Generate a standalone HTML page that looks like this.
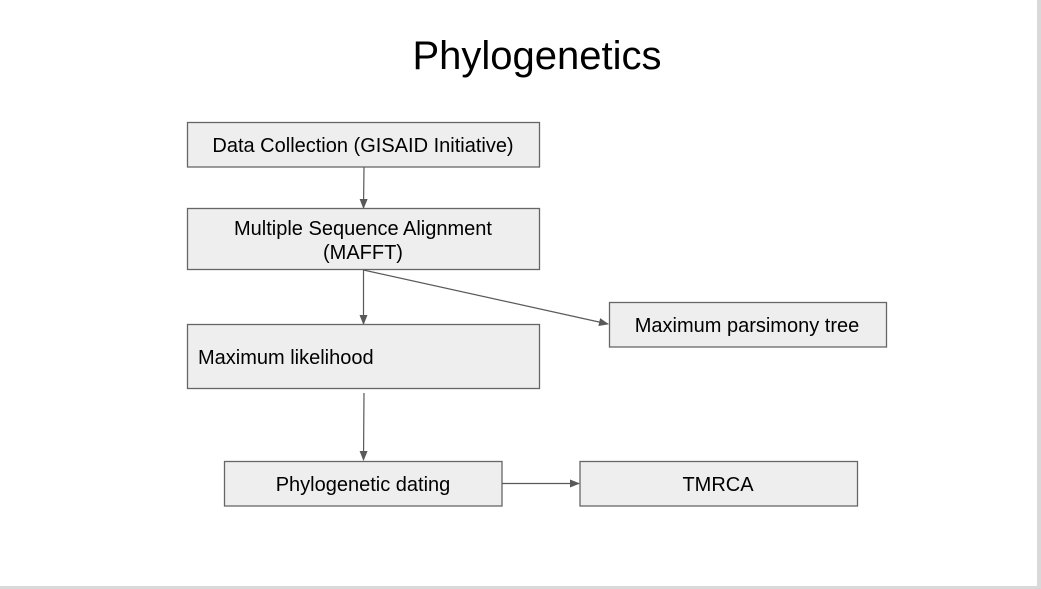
<!DOCTYPE html>
<html><head><style>
html,body{margin:0;padding:0;background:#fff;}
svg{display:block;}
text{font-family:"Liberation Sans",Arial,sans-serif;fill:#000;}
</style></head><body>
<svg width="1041" height="589" viewBox="0 0 1041 589">
<defs><marker id="a" markerWidth="10" markerHeight="8" refX="9" refY="4" orient="auto" markerUnits="userSpaceOnUse"><path d="M0,0 L10,4 L0,8 z" fill="#595959"/></marker></defs>
<rect x="0" y="0" width="1041" height="589" fill="#fff"/>
<rect x="1037" y="0" width="4" height="589" fill="#d9d9d9"/>
<rect x="0" y="586" width="1041" height="3" fill="#d9d9d9"/>
<text x="537" y="69" font-size="40" text-anchor="middle">Phylogenetics</text>
<g fill="#eeeeee" stroke="#666" stroke-width="1.3">
<rect x="187.5" y="122.5" width="352" height="44.5"/>
<rect x="187.5" y="208.5" width="352" height="61"/>
<rect x="609.5" y="302.5" width="277" height="44.5"/>
<rect x="187.5" y="324.5" width="352" height="64"/>
<rect x="224.5" y="461.5" width="277.5" height="44.5"/>
<rect x="580" y="461.5" width="277.5" height="44.5"/>
</g>
<g stroke="#595959" stroke-width="1.2" fill="none">
<line x1="364" y1="167" x2="363.5" y2="208" marker-end="url(#a)"/>
<line x1="363.5" y1="270" x2="363.5" y2="324" marker-end="url(#a)"/>
<line x1="363.5" y1="270" x2="608" y2="324" marker-end="url(#a)"/>
<line x1="364" y1="393" x2="363.5" y2="460" marker-end="url(#a)"/>
<line x1="502" y1="483.5" x2="579" y2="483.5" marker-end="url(#a)"/>
</g>
<g font-size="20">
<text x="363" y="152" text-anchor="middle">Data Collection (GISAID Initiative)</text>
<text x="363" y="235" text-anchor="middle">Multiple Sequence Alignment</text>
<text x="363" y="259" text-anchor="middle">(MAFFT)</text>
<text x="747" y="332" text-anchor="middle">Maximum parsimony tree</text>
<text x="198" y="364">Maximum likelihood</text>
<text x="363" y="491" text-anchor="middle">Phylogenetic dating</text>
<text x="718" y="491" text-anchor="middle">TMRCA</text>
</g>
</svg>
</body></html>
